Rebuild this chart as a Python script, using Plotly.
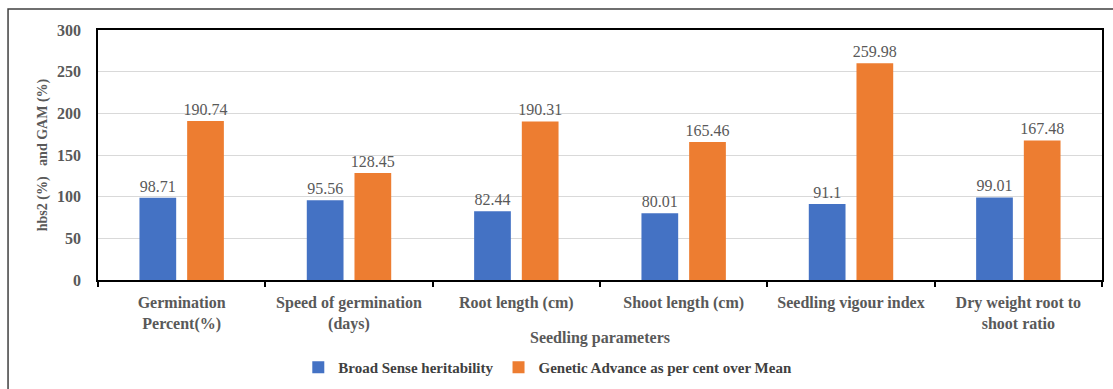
import plotly.graph_objects as go

categories = [
    "Germination<br>Percent(%)",
    "Speed of germination<br>(days)",
    "Root length (cm)",
    "Shoot length (cm)",
    "Seedling vigour index",
    "Dry weight root to<br>shoot ratio",
]
heritability = [98.71, 95.56, 82.44, 80.01, 91.1, 99.01]
gam = [190.74, 128.45, 190.31, 165.46, 259.98, 167.48]
y_ticks = [0, 50, 100, 150, 200, 250, 300]

SERIF = "'Times New Roman', 'Liberation Serif', serif"
GREY = "#595959"

fig = go.Figure()
for vals, name, color in [
    (heritability, "Broad Sense heritability", "#4472C4"),
    (gam, "Genetic Advance as per cent over Mean", "#ED7D31"),
]:
    fig.add_trace(go.Bar(
        x=categories, y=vals, name=name,
        marker=dict(color=color, line=dict(width=0)),
        text=[f"{v:g}" for v in vals], textposition="outside",
        constraintext="none",
        textfont=dict(family=SERIF, size=16, color=GREY), cliponaxis=False,
    ))

fig.update_layout(
    width=1113, height=389,
    margin=dict(l=98, r=11, t=30, b=109, autoexpand=False),
    paper_bgcolor="white", plot_bgcolor="white",
    barmode="group", bargap=0.43, bargroupgap=0.23,
    showlegend=True,
    legend=dict(
        orientation="h", x=0.448, xanchor="center", y=-0.35, yanchor="middle",
        font=dict(family=SERIF, size=15, color="#404040", weight="bold"),
        itemwidth=30,
    ),
    font=dict(family=SERIF, color=GREY),
)

fig.update_xaxes(
    showline=True, linecolor="black", linewidth=1.5, mirror=True,
    ticks="outside", tickson="boundaries", ticklen=5, tickcolor="black", tickwidth=1.5,
    ticklabelstandoff=7, automargin=False,
    tickfont=dict(family=SERIF, size=16, color=GREY, weight="bold"),
    title=dict(text="Seedling parameters",
               font=dict(family=SERIF, size=16, color=GREY, weight="bold"), standoff=0),
)
fig.update_yaxes(
    range=[0, 300], tickvals=y_ticks,
    showline=True, linecolor="black", linewidth=1.5, mirror=True,
    showgrid=True, gridcolor="#d9d9d9", gridwidth=1.2,
    zeroline=False, ticks="", ticklabelstandoff=12, automargin=False,
    tickfont=dict(family=SERIF, size=16, color=GREY, weight="bold"),
    title=dict(text="hbs2 (%)   and GAM (%)",
               font=dict(family=SERIF, size=14, color=GREY, weight="bold"), standoff=6),
)

# frame around the whole chart block
fig.add_shape(type="rect", xref="paper", yref="paper",
              x0=-0.0896, x1=1.05, y0=-0.6, y1=1.084,
              line=dict(color="#404040", width=1.5), fillcolor="rgba(0,0,0,0)", layer="below")

fig.write_html("out.html")
